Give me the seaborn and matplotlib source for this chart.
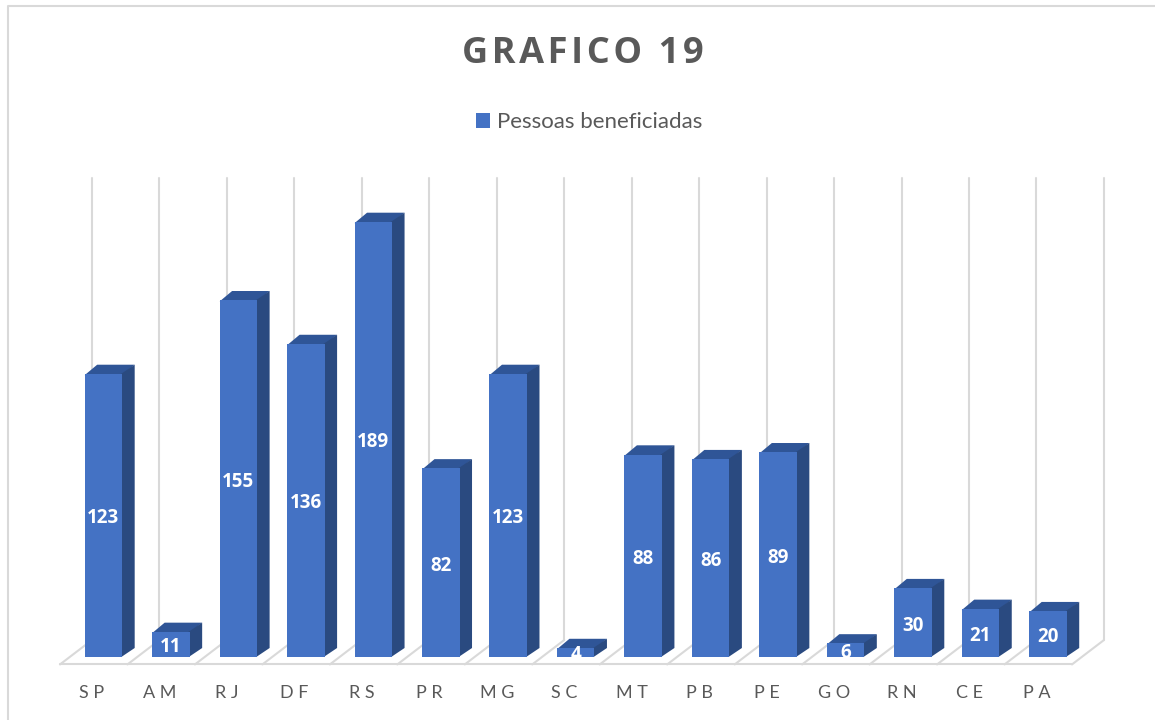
import matplotlib
matplotlib.use("Agg")
import pandas as pd
import matplotlib.pyplot as plt
from matplotlib.lines import Line2D
from matplotlib.patches import Polygon
import seaborn as sns


# data
estados = ["SP", "AM", "RJ", "DF", "RS", "PR", "MG", "SC", "MT", "PB", "PE", "GO", "RN", "CE", "PA"]
pessoas = [123, 11, 155, 136, 189, 82, 123, 4, 88, 86, 89, 6, 30, 21, 20]

AZUL = "#4472C4"
AZUL_TOPO = "#2F5597"
AZUL_LADO = "#2A4A80"
CINZA = "#D9D9D9"
TEXTO = "#595959"

sns.set_theme(style="white")
plt.rcParams["font.family"] = ["Lato", "DejaVu Sans"]

df = pd.DataFrame({"estado": estados, "pessoas": pessoas})

fig = plt.figure(figsize=(11.55, 7.2), dpi=100)
ax = fig.add_axes([69.7 / 1155, (720 - 657.3) / 720, 1012 / 1155, 479.3 / 720])

sns.barplot(data=df, x="estado", y="pessoas", color=AZUL, saturation=1, width=0.556,
            linewidth=0, label="Pessoas beneficiadas", ax=ax, zorder=4)
ax.set_xlim(-0.5, len(estados) - 0.5)
ax.set_ylim(0, 208.1)

# profundidade do efeito 3D
dx = 12.5 / 67.47
dy = 9.3 / 2.303

# chao e linhas de grade
for k in range(len(estados) + 1):
    ax.plot([k - 0.17, k - 0.17], [7.5, 208.1], color=CINZA, lw=1.5, zorder=1, clip_on=False)
    ax.plot([k - 0.644, k - 0.17], [-3.1, 7.5], color=CINZA, lw=1.5, zorder=1, clip_on=False)
ax.plot([-0.644, len(estados) - 0.644], [-3.1, -3.1], color=CINZA, lw=1.5, zorder=1, clip_on=False)

# faces de cima e do lado (passam um pouco por baixo da face da frente)
barras = ax.containers[0]
for b in barras:
    x0, w, h = b.get_x(), b.get_width(), b.get_height()
    x1 = x0 + w
    topo = [(x0, h - 0.5), (x1, h - 0.5), (x1 + dx, h + dy), (x0 + dx, h + dy)]
    lado = [(x1 - 0.02, 0), (x1 + dx, dy), (x1 + dx, h + dy), (x1 - 0.02, h)]
    ax.add_patch(Polygon(topo, closed=True, fc=AZUL_TOPO, ec="none", zorder=3))
    ax.add_patch(Polygon(lado, closed=True, fc=AZUL_LADO, ec="none", zorder=3))

ax.bar_label(barras, label_type="center", padding=-2, color="white", fontsize=13.5,
             fontweight="bold", family=["Open Sans", "DejaVu Sans"], zorder=5)

# rotulos do eixo
ax.set_xticks([i - 0.17 for i in range(len(estados))])
ax.set_xticklabels([" ".join(e) for e in estados], fontsize=13, color=TEXTO)
ax.tick_params(axis="x", length=0, pad=20)
ax.set_yticks([])
ax.set_xlabel("")
ax.set_ylabel("")
sns.despine(ax=ax, left=True, bottom=True)

leg = ax.legend(loc="center", bbox_to_anchor=(589 / 1155, (720 - 122) / 720),
                bbox_transform=fig.transFigure, frameon=False, fontsize=16, labelcolor=TEXTO,
                handlelength=0.64, handleheight=0.64, handletextpad=0.3)

fig.text(583 / 1155, (720 - 54) / 720, "\u200a".join("GRAFICO 19"), ha="center", va="center",
         fontsize=26, fontweight="bold", color=TEXTO, family=["Open Sans", "DejaVu Sans"])

# moldura do grafico
fig.add_artist(Line2D([8 / 1155, 8 / 1155, 1], [0, 714 / 720, 714 / 720], color=CINZA, lw=1.5))

plt.savefig("out.png", dpi=100)
